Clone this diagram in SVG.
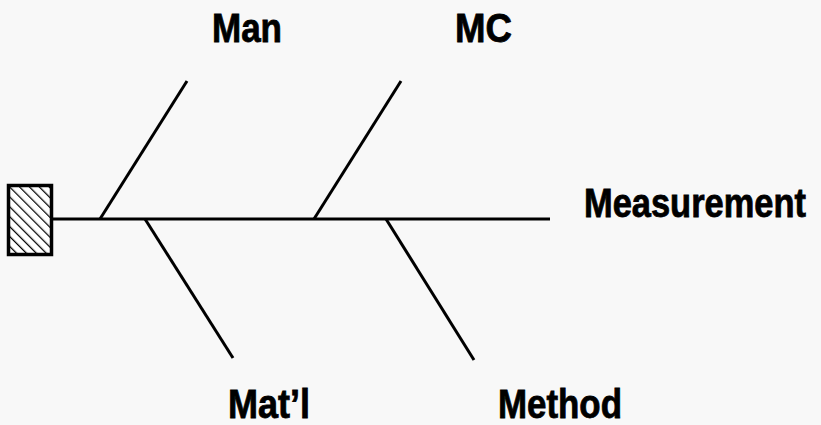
<svg xmlns="http://www.w3.org/2000/svg" width="821" height="425" viewBox="0 0 821 425">
<defs>
<style>
.lbl{font-family:"Liberation Sans",Arial,sans-serif;font-weight:bold;font-size:40px;fill:#000;stroke:#000;stroke-width:0.8;}
.ln{stroke:#000;stroke-width:3;fill:none;stroke-linecap:butt;}
</style>
<pattern id="hatch" patternUnits="userSpaceOnUse" width="7" height="7" patternTransform="rotate(-45)">
<line x1="0" y1="0" x2="0" y2="7" stroke="#000" stroke-width="2.5"/>
</pattern>
</defs>
<rect width="821" height="425" fill="#f8f8f8"/>
<g id="head">
<rect x="8.5" y="185.5" width="43" height="69" fill="#fff"/>
<rect x="8.5" y="185.5" width="43" height="69" fill="url(#hatch)"/>
<rect x="8.5" y="185.5" width="43" height="69" fill="none" stroke="#000" stroke-width="3.5"/>
</g>
<g id="connectors">
<line class="ln" x1="52" y1="219" x2="550" y2="219"/>
<line class="ln" x1="100" y1="219" x2="187" y2="81"/>
<line class="ln" x1="314" y1="219" x2="401" y2="81"/>
<line class="ln" x1="145" y1="219" x2="233" y2="358"/>
<line class="ln" x1="386" y1="219" x2="474" y2="360"/>
</g>
<g id="man"><text class="lbl" transform="translate(212,42) scale(0.875,1)">Man</text></g>
<g id="mc"><text class="lbl" transform="translate(455,42) scale(0.916,1)">MC</text></g>
<g id="measurement"><text class="lbl" transform="translate(584,217) scale(0.861,1)">Measurement</text></g>
<g id="matl"><text class="lbl" transform="translate(228,418) scale(0.9,1)">Mat’l</text></g>
<g id="method"><text class="lbl" transform="translate(498,418) scale(0.872,1)">Method</text></g>
</svg>
